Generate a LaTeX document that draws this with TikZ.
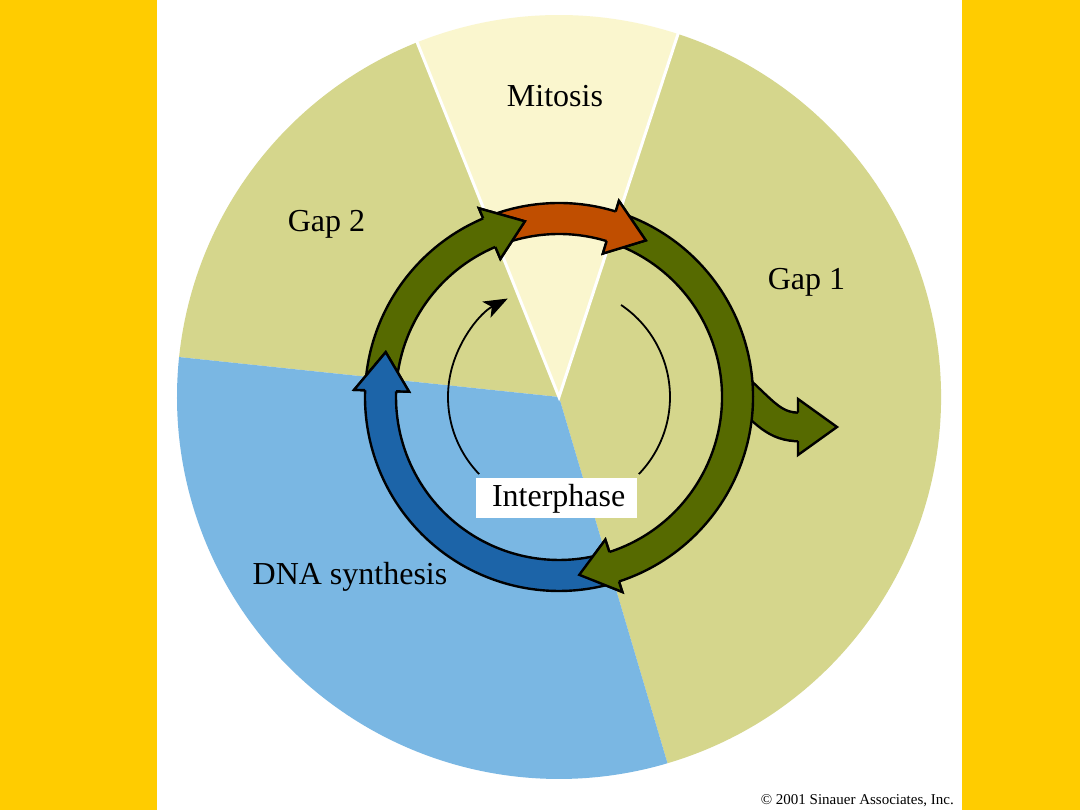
\documentclass[tikz,border=0pt]{standalone}
\usepackage{fontspec}
\setmainfont{Liberation Serif}
\usetikzlibrary{arrows.meta}
\definecolor{barY}{RGB}{255,204,0}
\definecolor{gapc}{RGB}{213,214,140}
\definecolor{mitc}{RGB}{250,246,206}
\definecolor{dnac}{RGB}{122,183,227}
\definecolor{olv}{RGB}{86,106,0}
\definecolor{org}{RGB}{192,78,0}
\definecolor{blu}{RGB}{28,100,168}
\def\Rout{194pt}
\def\Rin{163pt}
\def\Rhout{205pt}
\def\Rhin{150pt}
\def\Rmid{179pt}
\newcommand{\ringarr}[4]{%
  \filldraw[arrline, fill=#1] (#2:\Rout) arc[start angle=#2, end angle=#3, radius=\Rout]
    -- (#3:\Rhout) -- (#4:\Rmid) -- (#3:\Rhin) -- (#3:\Rin)
    arc[start angle=#3, end angle=#2, radius=\Rin] -- cycle;}
\newcommand{\ringhead}[3]{%
  \fill[#1] (#2:\Rhout) -- (#3:\Rmid) -- (#2:\Rhin) -- cycle;
  \draw[arrline] (#2:\Rout) -- (#2:\Rhout) -- (#3:\Rmid) -- (#2:\Rhin) -- (#2:\Rin);}
\begin{document}
\begin{tikzpicture}[x=1pt,y=1pt,
  arrline/.style={line width=2.4pt, line join=miter, draw=black},
  thinarc/.style={line width=1.8pt, draw=black},
  lbl/.style={font=\fontsize{32}{36}\selectfont, inner sep=0pt}]
\useasboundingbox (0,0) rectangle (1080,810);
\fill[white] (0,0) rectangle (1080,810);
\fill[barY] (0,0) rectangle (157,810);
\fill[barY] (962,0) rectangle (1080,810);
\begin{scope}[shift={(559,413)}]
  \fill[gapc] (0,0) -- (-73.5:382pt) arc[start angle=-73.5, end angle=71.85, radius=382pt] -- cycle;
  \fill[mitc] (0,0) -- (71.85:382pt) arc[start angle=71.85, end angle=111.8, radius=382pt] -- cycle;
  \fill[gapc] (0,0) -- (111.8:382pt) arc[start angle=111.8, end angle=174, radius=382pt] -- cycle;
  \fill[dnac] (0,0) -- (174:382pt) arc[start angle=174, end angle=286.5, radius=382pt] -- cycle;
  \draw[white, line width=3pt, line join=miter] (71.85:383pt) -- (0,0) -- (111.8:383pt);
  % thin inner arcs
  \draw[thinarc, -{Stealth[length=24pt, width=18pt, inset=6pt]}] (224:111pt) arc[start angle=224, end angle=117.5, radius=111pt];
  \draw[thinarc] (56:111pt) arc[start angle=56, end angle=-44, radius=111pt];
\end{scope}
% branch exit arrow (under the ring)
\draw[line width=31pt, black] (740,420) .. controls (766,396) and (775,383) .. (800,383);
\draw[line width=26pt, olv] (740,420) .. controls (766,396) and (775,383) .. (800,383);
\fill[olv] (798,411) -- (837,383) -- (798,355) -- cycle;
\draw[arrline] (798,397.25) -- (798,411) -- (837,383) -- (798,355) -- (798,368.75);
% ring arrows
\begin{scope}[shift={(559,413)}]
  \ringarr{olv}{71.5}{-72}{-83.5}
  \ringarr{org}{111.5}{73}{61}
  \ringarr{olv}{176.5}{113}{101}
  \ringarr{blu}{-73.5}{-182}{-194.5}
  \ringhead{olv}{-72}{-83.5}
  \ringhead{org}{73}{61}
  \ringhead{olv}{113}{101}
  \ringhead{blu}{-182}{-194.5}
\end{scope}
% labels
\node[lbl, anchor=base] (mit) at (555,703) {Mitosis};
\node[lbl, anchor=base] (gtwo) at (326.5,578) {Gap 2};
\node[lbl, anchor=base] (gone) at (806.5,520) {Gap 1};
\node[lbl, anchor=base] (dna) at (350,225) {DNA synthesis};
\node[fill=white, inner sep=0pt, minimum width=161pt, minimum height=40pt] (ibox) at (556.5,312) {};
\node[lbl, anchor=base] (inter) at (558.7,303.3) {Interphase};
\node[font=\fontsize{15}{17}\selectfont, anchor=base east, inner sep=0pt] (copy) at (954,5) {\textcopyright\ 2001 Sinauer Associates, Inc.};
\end{tikzpicture}
\end{document}
